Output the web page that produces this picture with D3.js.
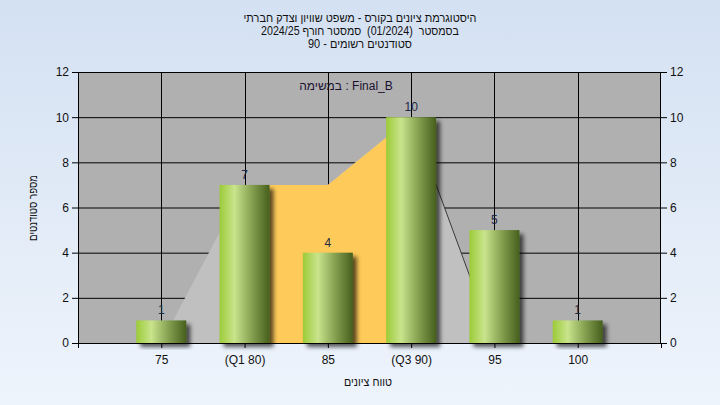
<!DOCTYPE html>
<html><head><meta charset="utf-8">
<script src="https://cdn.jsdelivr.net/npm/d3@7"></script>
<style>
html,body{margin:0;padding:0;}
svg{display:block;font-family:"Liberation Sans",Arial,sans-serif;}
text{white-space:pre;}
</style></head>
<body>
<svg id="c" width="720" height="405"></svg>
<script>
const categories = ["75", "(Q1 80)", "85", "(Q3 90)", "95", "100"];
const counts = [1, 7, 4, 10, 5, 1];
const grayArea = [0, 7, 7, 10, 0, 0];
const iqrCats = [1, 2, 3];          // indexes of Q1..Q3
const iqrValues = [7, 7, 10];
const lineFrom = [3, 10], lineTo = [4, 0]; // category index, value
const yTicks = [0, 2, 4, 6, 8, 10, 12];
const titleLines = ["היסטוגרמת ציונים בקורס - משפט שוויון וצדק חברתי",
                    "בסמסטר  (01/2024)  סמסטר חורף 2024/25",
                    "סטודנטים רשומים - 90"];
const subTitle = "במשימה : Final_B";
const xTitle = "טווח ציונים";
const yTitle = "מספר סטודנטים";

const svg = d3.select("#c");
const W = 720, H = 405;
const L = 78, R = 661, T = 72, B = 343;
const x = d3.scaleLinear().domain([0, categories.length + 1]).range([L, R]);
const y = d3.scaleLinear().domain([0, 12]).range([B, T]);
const pos = i => x(i + 1);

const defs = svg.append("defs");
const bg = defs.append("linearGradient").attr("id", "bg").attr("x1", 0).attr("y1", 0).attr("x2", 0).attr("y2", 1);
bg.append("stop").attr("offset", "0%").attr("stop-color", "#d4e1f2");
bg.append("stop").attr("offset", "100%").attr("stop-color", "#eef4fc");
const bar = defs.append("linearGradient").attr("id", "bar").attr("x1", 0).attr("y1", 0).attr("x2", 1).attr("y2", 0);
bar.append("stop").attr("offset", "0%").attr("stop-color", "#9ccb38");
bar.append("stop").attr("offset", "30%").attr("stop-color", "#c9e48c");
bar.append("stop").attr("offset", "65%").attr("stop-color", "#849f4f");
bar.append("stop").attr("offset", "100%").attr("stop-color", "#465f1d");
const f = defs.append("filter").attr("id", "sh").attr("x", "-20%").attr("y", "-20%").attr("width", "150%").attr("height", "150%");
f.append("feDropShadow").attr("dx", 4).attr("dy", 4).attr("stdDeviation", 2).attr("flood-color", "#000").attr("flood-opacity", 0.65);

svg.append("rect").attr("width", W).attr("height", H).attr("fill", "url(#bg)");

// plot background
svg.append("rect").attr("x", L).attr("y", T).attr("width", R - L).attr("height", B - T).attr("fill", "#b0b0b0");

// gridlines
svg.append("g").selectAll("line").data(yTicks).join("line")
  .attr("x1", L).attr("x2", R).attr("y1", d => y(d) + 0.5).attr("y2", d => y(d) + 0.5)
  .attr("stroke", "#000").attr("stroke-width", 1);
svg.append("g").selectAll("line").data(categories).join("line")
  .attr("x1", (d, i) => Math.round(pos(i)) + 0.5).attr("x2", (d, i) => Math.round(pos(i)) + 0.5)
  .attr("y1", T).attr("y2", B).attr("stroke", "#000");

// areas
const area = d3.area().x(d => pos(d[0])).y0(y(0)).y1(d => y(d[1]));
svg.append("path").datum(grayArea.map((v, i) => [i, v])).attr("d", area).attr("fill", "#c0c0c0");
svg.append("path").datum(iqrCats.map((c, k) => [c, iqrValues[k]])).attr("d", area).attr("fill", "#fecb5a");
svg.append("line").attr("x1", pos(lineFrom[0])).attr("y1", y(lineFrom[1]))
  .attr("x2", pos(lineTo[0])).attr("y2", y(lineTo[1])).attr("stroke", "#3a3a3a").attr("stroke-width", 1);

// frame
svg.append("rect").attr("x", L + 0.5).attr("y", T + 0.5).attr("width", R - L - 1).attr("height", B - T)
  .attr("fill", "none").attr("stroke", "#000");

// bars
const bw = (x(1) - x(0)) * 0.6;
svg.append("g").selectAll("rect").data(counts).join("rect")
  .attr("x", (d, i) => pos(i) - bw / 2).attr("width", bw)
  .attr("y", d => y(d)).attr("height", d => y(0) - y(d))
  .attr("fill", "url(#bar)").attr("filter", "url(#sh)");

// value labels
svg.append("g").selectAll("text").data(counts).join("text")
  .attr("x", (d, i) => pos(i)).attr("y", d => y(d) - 6)
  .attr("text-anchor", "middle").attr("font-size", 12).attr("fill", "#1e2a44").text(d => d);

// axes
const axL = svg.append("g").attr("transform", `translate(${L},0)`)
  .call(d3.axisLeft(y).tickValues(yTicks).tickSize(6).tickPadding(3).tickFormat(d3.format("d")));
const axR = svg.append("g").attr("transform", `translate(${R},0)`)
  .call(d3.axisRight(y).tickValues(yTicks).tickSize(6).tickPadding(3).tickFormat(d3.format("d")));
const axB = svg.append("g").attr("transform", `translate(0,${B})`)
  .call(d3.axisBottom(x).tickValues(d3.range(0, categories.length + 2)).tickSize(5).tickPadding(7)
    .tickFormat(d => (d >= 1 && d <= categories.length) ? categories[d - 1] : ""));
[axL, axR, axB].forEach(a => {
  a.select(".domain").remove();
  a.selectAll("line").attr("stroke", "#000");
  a.selectAll("text").attr("fill", "#111").attr("font-size", 12).attr("font-family", "\"Liberation Sans\",Arial,sans-serif");
});
axB.selectAll("text").attr("direction", "ltr");

// squeezed Hebrew text helper (horizontal scale to match the narrower original font)
function squeezed(tx, ty, rot, str, target, color) {
  const g = svg.append("g");
  const t = g.append("text").attr("x", 0).attr("y", 0).attr("text-anchor", "middle")
    .attr("direction", "rtl").attr("font-size", 12).attr("fill", color || "#111").text(str);
  const len = t.node().getComputedTextLength();
  const sx = len > 0 ? target / len : 1;
  g.attr("transform", `translate(${tx},${ty}) rotate(${rot}) scale(${sx},1)`);
}
const titleWidths = [233, 198, 104];
titleLines.forEach((t, i) => squeezed(360, 22 + i * 13, 0, t, titleWidths[i]));
svg.append("text").attr("x", 346).attr("y", 90).attr("text-anchor", "middle")
  .attr("direction", "ltr").attr("font-size", 12).attr("fill", "#1a1030").text(subTitle);
squeezed(368, 386, 0, xTitle, 48);
squeezed(37, 208, -90, yTitle, 66);
</script>
</body></html>
